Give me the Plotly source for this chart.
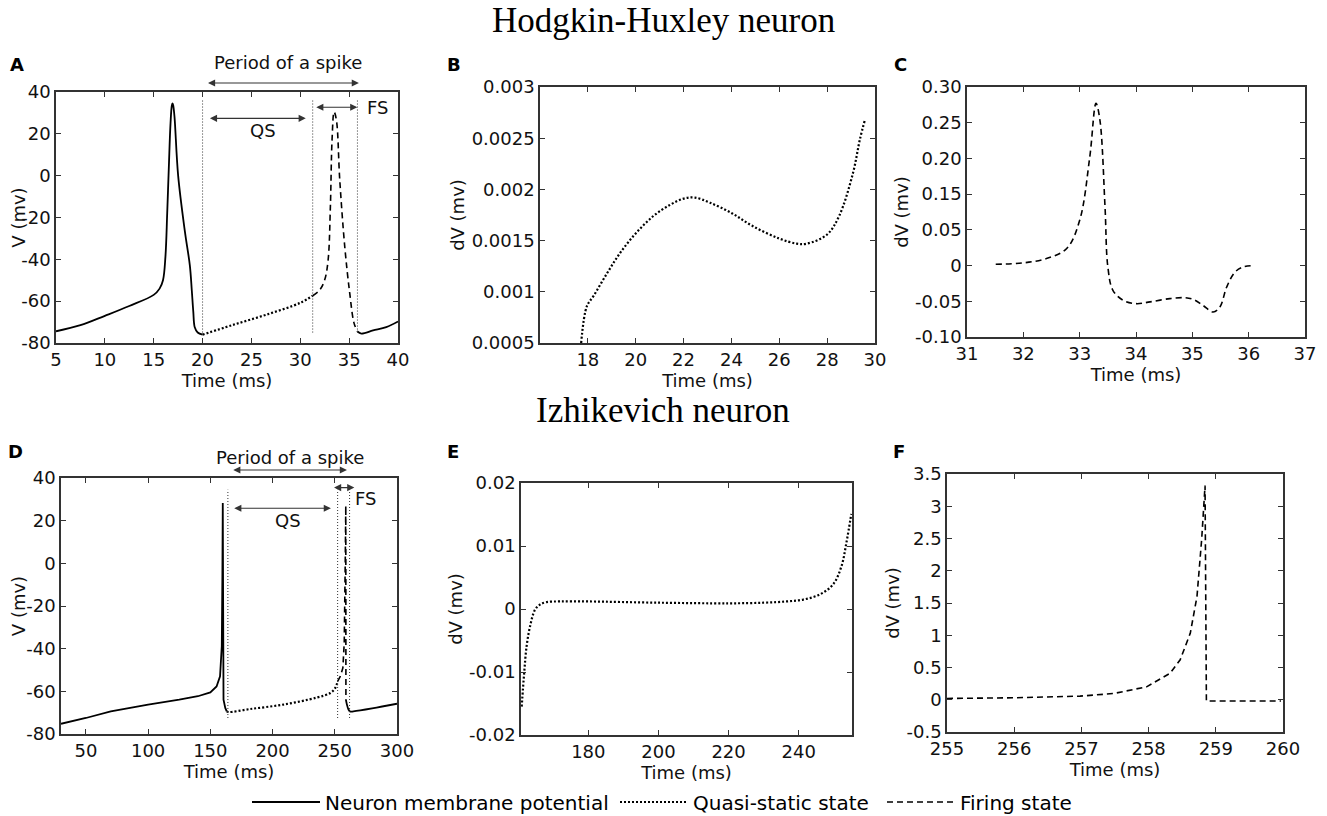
import plotly.graph_objects as go

# ---------------- data ----------------
# A: Hodgkin-Huxley membrane potential
hh_t_solid1 = [5.0, 7.5, 10.0, 12.5, 15.0, 15.6, 15.95, 16.2, 16.38, 16.55, 16.72, 16.86, 16.93, 17.0,
               17.13, 17.5, 18.2, 18.7, 18.9, 19.05, 19.2, 19.5, 20.0]
hh_v_solid1 = [-74.4, -71.5, -67.0, -62.3, -57.0, -54.0, -50.0, -38.7, -18.0, 4.4, 25.0, 33.7, 34.5, 33.5,
               28.0, 0.0, -27.0, -43.0, -55.0, -65.0, -72.5, -75.0, -76.0]
hh_t_qs = [20.0, 23.0, 26.5, 30.0, 31.27]
hh_v_qs = [-76.0, -71.5, -66.5, -60.8, -57.4]
hh_t_fs = [31.27, 32.0, 32.5, 32.85, 33.08, 33.25, 33.46, 33.7, 34.04, 34.55, 35.06, 35.5, 35.85]
hh_v_fs = [-57.4, -54.6, -49.8, -40.3, -14.8, 17.0, 30.5, 26.5, -2.1, -33.9, -56.2, -70.5, -74.5]
hh_t_solid2 = [35.85, 36.25, 37.45, 38.8, 40.0]
hh_v_solid2 = [-74.5, -75.5, -74.0, -72.4, -69.7]
hh_marks = [20.0, 31.27, 35.85]

# B: HH derivative during quasi-static state
hh_qs_t = [17.72, 17.96, 18.24, 18.8, 19.35, 20.0, 20.74, 21.44, 22.0, 22.47, 23.1, 24.0, 24.9, 26.0,
           26.73, 27.15, 28.0, 28.5, 29.08, 29.37, 29.58]
hh_qs_dv = [0.0005, 0.00086, 0.00096, 0.00118, 0.00138, 0.00157, 0.00174, 0.00185, 0.00191, 0.00192,
            0.00187, 0.00177, 0.00164, 0.00152, 0.00147, 0.00147, 0.00156, 0.00174, 0.00216, 0.00249, 0.00268]

# C: HH derivative during firing state
hh_fs_t = [31.51, 32.0, 32.41, 32.77, 33.0, 33.18, 33.29, 33.36, 33.45, 33.5, 33.59, 33.77, 34.0, 34.25,
           34.6, 34.87, 35.02, 35.19, 35.37, 35.49, 35.61, 35.76, 35.91, 36.11]
hh_fs_dv = [0.0022, 0.0045, 0.0118, 0.0286, 0.076, 0.183, 0.2725, 0.244, 0.0987, -0.002, -0.0415, -0.0583,
            -0.064, -0.061, -0.0555, -0.054, -0.057, -0.067, -0.078, -0.0695, -0.036, -0.0107, -0.0022, 0.0]
c_tick_pos = [-0.12, -0.06, 0, 0.06, 0.12, 0.18, 0.24, 0.30]
c_tick_text = ['-0.10', '-0.05', '0', '0.05', '0.15', '0.20', '0.25', '0.30']

# D: Izhikevich membrane potential
iz_t_solid1 = [30, 50, 70, 100, 125, 140, 150, 155, 157.8, 159.2, 159.7, 160.0, 160.3, 160.6, 162.0, 163.2]
iz_v_solid1 = [-75.2, -72.5, -69.4, -66.2, -63.9, -62.3, -60.5, -57.7, -53.0, -38.9, -5.0, 28.3, -20.0,
               -63.9, -67.8, -69.4]
iz_t_qs = [163.2, 164.5, 182, 208.8, 235.6, 246.4, 250.4, 252.3]
iz_v_qs = [-69.4, -69.7, -68.3, -66.2, -62.9, -60.8, -58.4, -55.3]
iz_t_fs = [252.3, 254.4, 256.5, 257.6, 258.4, 258.85, 258.95]
iz_v_fs = [-55.3, -53.0, -49.0, -37.3, 0.2, 27.0, -64.0]
iz_t_solid2 = [258.95, 259.8, 261.0, 262.5, 265, 280, 300]
iz_v_solid2 = [-64.0, -66.3, -68.5, -69.5, -69.4, -68.0, -65.8]
iz_marks = [164.1, 252.3, 261.9]

# E: Izhikevich derivative during quasi-static state
iz_qs_t = [161.0, 161.7, 162.4, 163.4, 164.8, 166.2, 168.1, 171.9, 180, 200, 220, 230, 236.5, 241.3,
           246, 249.8, 252.2, 253.6, 255.0]
iz_qs_dv = [-0.0155, -0.0102, -0.0059, -0.0027, -0.0001, 0.0007, 0.0011, 0.0012, 0.0012, 0.0010, 0.0009,
            0.0010, 0.0012, 0.0015, 0.0023, 0.0039, 0.0068, 0.0105, 0.0151]

# F: Izhikevich derivative during firing state
iz_fs_t = [255.0, 255.98, 256.98, 257.48, 257.97, 258.32, 258.47, 258.62, 258.72, 258.79, 258.84, 258.86, 259.97]
iz_fs_dv = [0.02, 0.03, 0.056, 0.097, 0.2, 0.41, 0.62, 1.03, 1.6, 2.49, 3.32, -0.02, -0.02]

# ---------------- figure ----------------
# the page body keeps its default 8px margin, so the figure starts 8px into the
# 1327x816 window; all layout positions below are given in window pixels
OFF = 8
W, H = 1327 - OFF, 816 - OFF


def fx(px):
    return (px - OFF) / W


def fy(py):
    return 1 - (py - OFF) / H


BLACK = '#000000'
AXC = '#333333'
SOLID = dict(color=BLACK, width=1.8)
DOTTED = dict(color=BLACK, width=2.2, dash='2px,2px')
DASHED = dict(color=BLACK, width=1.6, dash='6px,4px')

fig = go.Figure()


def add(x, y, line, xa, ya, name=None, legend=None, shape='linear'):
    fig.add_trace(go.Scatter(
        x=x, y=y, mode='lines', line=dict(line, shape=shape),
        xaxis=xa, yaxis=ya, name=name or '',
        showlegend=legend is not None, legend=legend or 'legend', hoverinfo='skip'))


# A
add(hh_t_solid1, hh_v_solid1, SOLID, 'x', 'y', 'Neuron membrane potential', 'legend', 'spline')
add(hh_t_qs, hh_v_qs, DOTTED, 'x', 'y', 'Quasi-static state', 'legend2', 'spline')
add(hh_t_fs, hh_v_fs, DASHED, 'x', 'y', 'Firing state', 'legend3', 'spline')
add(hh_t_solid2, hh_v_solid2, SOLID, 'x', 'y', shape='spline')
# B, C
add(hh_qs_t, hh_qs_dv, DOTTED, 'x2', 'y2', shape='spline')
add(hh_fs_t, hh_fs_dv, DASHED, 'x3', 'y3', shape='spline')
# D
add(iz_t_solid1, iz_v_solid1, SOLID, 'x4', 'y4')
add(iz_t_qs, iz_v_qs, DOTTED, 'x4', 'y4', shape='spline')
add(iz_t_fs, iz_v_fs, DASHED, 'x4', 'y4')
add(iz_t_solid2, iz_v_solid2, SOLID, 'x4', 'y4', shape='spline')
# E, F
add(iz_qs_t, iz_qs_dv, DOTTED, 'x5', 'y5', shape='spline')
add(iz_fs_t, iz_fs_dv, DASHED, 'x6', 'y6')

# vertical dotted guides
for t in hh_marks:
    fig.add_shape(type='line', xref='x', yref='y', x0=t, x1=t, y0=-75, y1=36,
                  line=dict(color=AXC, width=1, dash='1px,2px'))
for t in iz_marks:
    fig.add_shape(type='line', xref='x4', yref='y4', x0=t, x1=t, y0=-72.5, y1=34.5,
                  line=dict(color=AXC, width=1, dash='1px,2px'))


def darrow(xr, yr, x0, x1, yv):
    fig.add_annotation(xref=xr, yref=yr, axref=xr, ayref='pixel' if yr == 'paper' else yr,
                       x=x1, y=yv, ax=x0, ay=0 if yr == 'paper' else yv,
                       text='', showarrow=True, arrowhead=2, arrowside='end+start',
                       arrowsize=1.3, arrowwidth=1.1, arrowcolor=AXC, standoff=0, startstandoff=0)


def label(xr, yr, x, y, txt):
    fig.add_annotation(xref=xr, yref=yr, x=x, y=y, text=txt, showarrow=False,
                       xanchor='center', yanchor='middle',
                       font=dict(family='DejaVu Sans', size=18, color='#111'))


# the "period" arrows sit above the axes, so they use paper y
darrow('x', 'paper', 20.4, 36.0, fy(83))
darrow('x', 'y', 20.6, 30.56, 27.4)
darrow('x', 'y', 31.48, 35.84, 32.7)
label('x', 'paper', 28.74, fy(63), 'Period of a spike')
label('x', 'y', 26.18, 21.8, 'QS')
label('x', 'y', 37.95, 32.4, 'FS')

darrow('x4', 'paper', 167.2, 259.8, fy(470))
darrow('x4', 'y4', 168.0, 246.9, 25.8)
darrow('x4', 'y4', 248.2, 265.7, 35.5)
label('x4', 'paper', 214.2, fy(457), 'Period of a spike')
label('x4', 'y4', 212.8, 20.3, 'QS')
label('x4', 'y4', 274.5, 30.5, 'FS')

# titles and panel letters
for txt, py in [('Hodgkin-Huxley neuron', 20), ('Izhikevich neuron', 410)]:
    fig.add_annotation(xref='paper', yref='paper', x=fx(663), y=fy(py), text=txt, showarrow=False,
                       xanchor='center', yanchor='middle',
                       font=dict(family='Liberation Serif', size=35, color=BLACK))
for txt, px, py in [('A', 17, 65), ('B', 454, 65), ('C', 900, 65),
                    ('D', 15, 451), ('E', 453, 451), ('F', 899, 451)]:
    fig.add_annotation(xref='paper', yref='paper', x=fx(px), y=fy(py), text='<b>%s</b>' % txt,
                       showarrow=False, xanchor='center', yanchor='middle',
                       font=dict(family='DejaVu Sans', size=18, color=BLACK))

axis = dict(showline=True, linecolor=AXC, linewidth=1.5, mirror='ticks', ticks='inside', ticklen=5,
            tickcolor=AXC, tickwidth=1.2, showgrid=False, zeroline=False, automargin=False,
            tickfont=dict(family='DejaVu Sans', size=18, color='#111'),
            title_font=dict(family='DejaVu Sans', size=18, color='#111'), title_standoff=2)


def ax(x0, x1, anchor, rng, vals, texts=None, title='', vertical=False):
    dom = [fy(x1), fy(x0)] if vertical else [fx(x0), fx(x1)]
    return dict(axis, domain=dom, anchor=anchor, range=rng, tickvals=vals,
                ticktext=texts if texts is not None else ['%g' % v for v in vals],
                title_text=title)


fig.update_layout(
    width=W, height=H, margin=dict(l=0, r=0, t=0, b=0, autoexpand=False),
    plot_bgcolor='white', paper_bgcolor='white',
    font=dict(family='DejaVu Sans', size=18, color='#111'),
    xaxis=ax(56, 398, 'y', [5, 40], [5, 10, 15, 20, 25, 30, 35, 40], title='Time (ms)'),
    yaxis=ax(92, 343, 'x', [-80, 40], [-80, -60, -40, -20, 0, 20, 40], title='V (mv)', vertical=True),
    xaxis2=ax(540, 875, 'y2', [16, 30], [18, 20, 22, 24, 26, 28, 30], title='Time (ms)'),
    yaxis2=ax(87, 343, 'x2', [0.0005, 0.003], [0.0005, 0.001, 0.0015, 0.002, 0.0025, 0.003],
              ['0.0005', '0.001', '0.0015', '0.002', '0.0025', '0.003'], title='dV (mv)', vertical=True),
    xaxis3=ax(967, 1305, 'y3', [31, 37], [31, 32, 33, 34, 35, 36, 37], title='Time (ms)'),
    yaxis3=ax(87, 337, 'x3', [-0.12, 0.30], c_tick_pos, c_tick_text, title='dV (mv)', vertical=True),
    xaxis4=ax(61, 397, 'y4', [30, 300], [50, 100, 150, 200, 250, 300], title='Time (ms)'),
    yaxis4=ax(478, 734, 'x4', [-80, 40], [-80, -60, -40, -20, 0, 20, 40], title='V (mv)', vertical=True),
    xaxis5=ax(521, 852, 'y5', [160.8, 255.2], [180, 200, 220, 240], title='Time (ms)'),
    yaxis5=ax(483, 735, 'x5', [-0.02, 0.02], [-0.02, -0.01, 0, 0.01, 0.02],
              ['-0.02', '-0.01', '0', '0.01', '0.02'], title='dV (mv)', vertical=True),
    xaxis6=ax(947, 1283, 'y6', [255, 260], [255, 256, 257, 258, 259, 260], title='Time (ms)'),
    yaxis6=ax(474, 732, 'x6', [-0.5, 3.5], [-0.5, 0, 0.5, 1, 1.5, 2, 2.5, 3, 3.5],
              ['-0.5', '0', '0.5', '1', '1.5', '2', '2.5', '3', '3.5'], title='dV (mv)', vertical=True),
)

leg = dict(orientation='h', yanchor='middle', xanchor='left', y=fy(802), itemwidth=68,
           font=dict(family='DejaVu Sans', size=20, color=BLACK), bgcolor='rgba(0,0,0,0)')
fig.update_layout(legend=dict(leg, x=fx(247)), legend2=dict(leg, x=fx(615)), legend3=dict(leg, x=fx(882)))

fig.write_html("out.html")
